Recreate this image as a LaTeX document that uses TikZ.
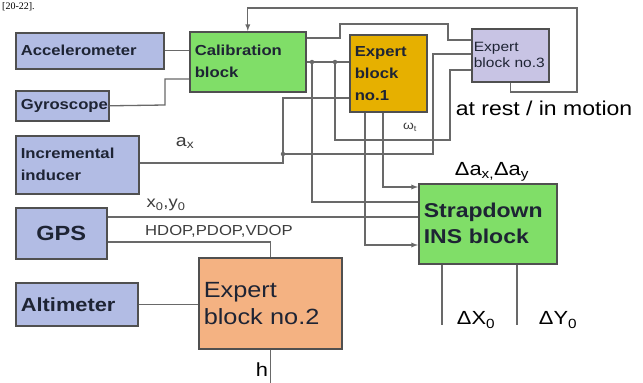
\documentclass[tikz,border=0pt]{standalone}
\usepackage{fontspec}
\setmainfont[FakeStretch=1.15]{Liberation Sans}
\newfontfamily\citefont{Liberation Serif}

\definecolor{boxline}{RGB}{80,80,80}
\definecolor{wirecol}{RGB}{105,105,105}
\definecolor{sensorfill}{RGB}{178,188,228}
\definecolor{calfill}{RGB}{128,222,104}
\definecolor{ex1fill}{RGB}{230,176,0}
\definecolor{ex3fill}{RGB}{200,196,228}
\definecolor{ex2fill}{RGB}{244,178,130}
\definecolor{blktext}{RGB}{30,36,52}
\definecolor{lblcol}{RGB}{60,60,60}

\tikzset{
  blk/.style={draw=boxline, line width=1.6pt, inner xsep=5pt, inner ysep=2pt,
    align=left, anchor=north west, text=blktext,
    font=\fontsize{14.5}{22}\selectfont\bfseries},
  sensor/.style={blk, fill=sensorfill},
  wire/.style={draw=wirecol, line width=1.3pt},
  junc/.style={circle, fill=wirecol, inner sep=0pt, minimum size=4.5pt},
  lbl/.style={text=lblcol, inner sep=0pt},
}

\begin{document}
\begin{tikzpicture}[x=1pt, y=-1pt, >=latex]
  \useasboundingbox (0,0) rectangle (643,383);
  \node[anchor=base west, inner sep=0pt, font=\citefont\fontsize{10}{10}\selectfont] (cite) at (2,9) {[20-22].};

  % sensors
  \node[sensor, text width=138pt, minimum height=36pt] (acc) at (15,32) {Accelerometer};
  \node[sensor, text width=83pt, minimum height=30pt] (gyro) at (15,90) {Gyroscope};
  \node[sensor, text width=113pt, minimum height=58pt] (ind) at (15,135) {Incremental\\inducer};
  \node[sensor, text width=81pt, minimum height=51pt, align=center,
    font=\fontsize{20.5}{24}\selectfont\bfseries] (gps) at (15,207) {GPS};
  \node[sensor, text width=112pt, minimum height=43pt,
    font=\fontsize{19}{22}\selectfont\bfseries] (alt) at (15,282) {Altimeter};

  % processing blocks
  \node[blk, fill=calfill, text width=106pt, minimum height=60pt] (cal) at (189,31) {Calibration\\block};
  \node[blk, fill=ex1fill, text width=67pt, minimum height=77pt] (ex1) at (349,34) {Expert\\block\\no.1};
  \node[blk, fill=ex3fill, inner xsep=2pt, text width=73pt, minimum height=53pt,
    font=\fontsize{13.5}{16}\selectfont] (ex3) at (471,28) {Expert\\block no.3};
  \node[blk, fill=calfill, text width=128pt, minimum height=80pt,
    font=\fontsize{20}{26}\selectfont\bfseries] (ins) at (418,183) {Strapdown\\INS block};
  \node[blk, fill=ex2fill, text width=133pt, minimum height=91pt,
    font=\fontsize{22}{27}\selectfont] (ex2) at (198,257) {Expert\\block no.2};

  % inputs of the calibration block
  \draw[wire] (acc.east) -- (acc.east -| cal.west);
  \draw[wire] (gyro.east) -- (165,105) |- (cal.west |- 0,79);
  \draw[wire] (cal.east |- 0,38) -- (340,38) |- (448,24) |- (ex3.west |- 0,40);
  \draw[wire] (cal.east |- 0,62) -- (ex1.west |- 0,62);
  \node[junc] (j1) at (312,62) {};
  \node[junc] (j2) at (335,62) {};
  \draw[wire] (j1.center) |- (ins.west |- 0,202);
  \draw[wire] (j2.center) |- (450,140) |- (ex3.west |- 0,70);

  % a_x and the state signal
  \draw[wire] (ind.east |- 0,163) -| (283,98) -- (ex1.west |- 0,98);
  \node[junc] (j3) at (283,154) {};
  \draw[wire] (ex3.west |- 0,54) -| (433,154) -- (j3.center);

  % expert block 1 -> INS
  \draw[wire,->] (ex1.south -| 365,0) |- (ins.west |- 0,245);
  \draw[wire,->] (ex1.south -| 383,0) |- (ins.west |- 0,187);

  % GPS and altimeter
  \draw[wire] (gps.east |- 0,217) -- (ins.west |- 0,217);
  \draw[wire] (gps.east |- 0,242) -| (ex2.north);
  \draw[wire] (alt.east) -- (alt.east -| ex2.west);

  % outputs
  \coordinate (hout) at (ex2.south |- 0,383);
  \coordinate (dxout) at (442,325);
  \coordinate (dyout) at (517,325);
  \draw[wire] (ex2.south) -- (hout);
  \draw[wire] (ins.south -| dxout) -- (dxout);
  \draw[wire] (ins.south -| dyout) -- (dyout);

  % feedback to calibration
  \draw[wire,->] (ex3.south) |- (577,92) |- (cal.north |- 0,8) -- (cal.north);

  % labels
  \node[lbl, font=\fontsize{17}{17}\selectfont] (ax) at (185,143) {a\textsubscript{x}};
  \node[lbl, font=\fontsize{16}{16}\selectfont] (xy) at (166,205) {x\textsubscript{0},y\textsubscript{0}};
  \node[lbl, font=\fontsize{14.5}{15}\selectfont] (dop) at (219,231) {HDOP,PDOP,VDOP};
  \node[lbl, font=\fontsize{12}{12}\selectfont] (wt) at (410,127) {ω\textsubscript{t}};
  \node[inner sep=0pt, font=\fontsize{20}{20}\selectfont] (rest) at (544,108) {at rest / in motion};
  \node[inner sep=0pt, font=\fontsize{19}{19}\selectfont] (da) at (492,172) {Δa\textsubscript{x,}Δa\textsubscript{y}};
  \node[inner sep=0pt, font=\fontsize{19}{19}\selectfont] (dX) at (476,320) {ΔX\textsubscript{0}};
  \node[inner sep=0pt, font=\fontsize{19}{19}\selectfont] (dY) at (558,320) {ΔY\textsubscript{0}};
  \node[inner sep=0pt, font=\fontsize{19}{19}\selectfont] (h) at (262,370) {h};
\end{tikzpicture}
\end{document}
